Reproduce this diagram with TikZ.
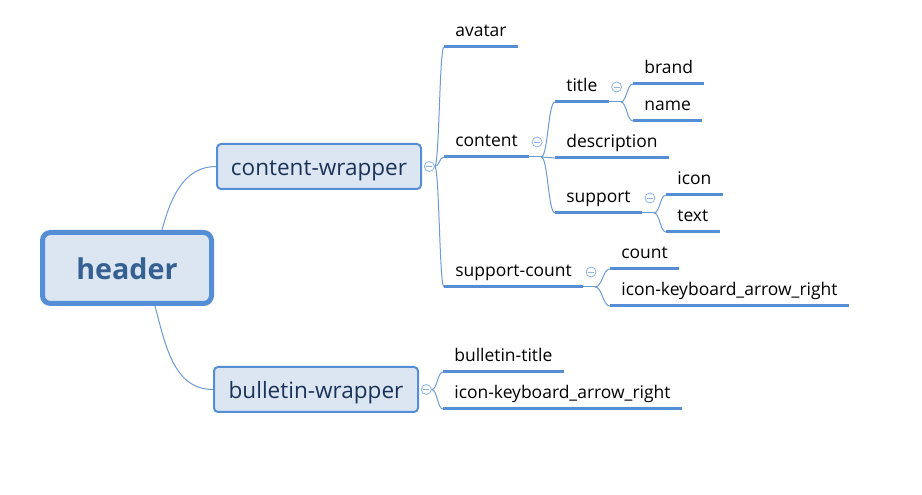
\documentclass[tikz,border=0pt]{standalone}
\usepackage{fontspec}
\setmainfont{Open Sans}
\usetikzlibrary{calc}
\definecolor{xmborder}{HTML}{558ED5}
\definecolor{xmfill}{HTML}{DCE6F2}
\definecolor{xmthin}{HTML}{6C9BD6}
\definecolor{xmtoggle}{HTML}{8DB3E2}
\definecolor{xmroot}{HTML}{366092}
\definecolor{xmsub}{HTML}{1B3358}
\tikzset{rootbox/.style={draw=xmborder, line width=3.75pt, fill=xmfill,
        rounded corners=6pt, minimum width=126.75pt, minimum height=53.25pt,
        inner sep=0pt, text=xmroot, text height=18pt, text depth=0pt,
        font=\fontsize{21.5}{25}\selectfont\bfseries},
    subbox/.style={draw=xmborder, line width=1.5pt, fill=xmfill,
        rounded corners=3pt, minimum width=153pt, minimum height=33.75pt,
        inner sep=0pt, text=xmsub, text height=13.5pt, text depth=0pt,
        font=\fontsize{16.9}{20}\selectfont},
    leaf/.style={anchor=south west, inner xsep=8.5pt, inner ysep=7.8pt,
        outer sep=0pt, text depth=0pt, font=\fontsize{13.1}{15}\selectfont},
    underline/.style={draw=xmborder, line width=2.25pt},
    branch/.style={draw=xmthin, line width=0.75pt},
    toggle/.style={circle, draw=xmtoggle, fill=white, line width=0.6pt,
        minimum size=7.5pt, inner sep=0pt,
        path picture={\draw[xmtoggle, line width=0.6pt]
            ([xshift=1.6pt]path picture bounding box.west) --
            ([xshift=-1.6pt]path picture bounding box.east);}},
    }
\begin{document}
\begin{tikzpicture}[x=0.75pt, y=-0.75pt]
\useasboundingbox (0,0) rectangle (922,495);
% boxes
\node[rootbox] (header) at (127,268) {header};
\node[subbox] (cw) at (319,166.5) {content-wrapper};
\node[subbox] (bw) at (316,389.5) {bulletin-wrapper};
% leaves
\node[leaf] (avatar) at (444,47) {avatar};
\node[leaf] (content) at (444,157) {content};
\node[leaf] (scount) at (444,287) {support-count};
\node[leaf] (title) at (555,102) {title};
\node[leaf] (desc) at (555,158) {description};
\node[leaf] (support) at (555,213) {support};
\node[leaf] (brand) at (633,84) {brand};
\node[leaf] (name) at (633,121) {name};
\node[leaf] (icon) at (666,195) {icon};
\node[leaf] (text) at (666,232) {text};
\node[leaf] (count) at (610,269) {count};
\node[leaf] (arrowa) at (610,306) {icon-keyboard\_arrow\_right};
\node[leaf] (btitle) at (443,372) {bulletin-title};
\node[leaf] (arrowb) at (443,409) {icon-keyboard\_arrow\_right};
\foreach \n in {avatar,content,scount,title,desc,support,brand,name,
    icon,text,count,arrowa,btitle,arrowb}
  \draw[underline] (\n.south west) -- (\n.south east);
% collapse buttons
\node[toggle] (cwT) at ([xshift=5.5pt]cw.east) {};
\node[toggle] (bwT) at ([xshift=5.5pt]bw.east) {};
\foreach \p in {content,title,support,scount}
  \node[toggle] (\p T) at ([shift={(8,-15)}]\p.south east) {};
% forks
\coordinate (forkcw) at (cwT.east);
\coordinate (forkbw) at (bwT.east);
\foreach \p in {content,title,support,scount}{
  \coordinate (fork\p) at ([xshift=9pt]\p.south east);
  \draw[branch] (\p.south east) -- (fork\p);
}
% connectors
\draw[branch] ([xshift=26.25pt]header.north) to[out=75,in=180] (cw.west);
\draw[branch] ([xshift=21pt]header.south) to[out=-75,in=180] (bw.west);
\foreach \p/\c in {cw/avatar,cw/content,cw/scount,content/title,
    content/desc,content/support,title/brand,title/name,support/icon,
    support/text,scount/count,scount/arrowa,bw/btitle,bw/arrowb}
  \draw[branch] (fork\p) .. controls ($(fork\p)!0.5!(fork\p -| \c.south west)$)
    and ($(\c.south west -| fork\p)!0.5!(\c.south west)$) .. (\c.south west);
\end{tikzpicture}
\end{document}
